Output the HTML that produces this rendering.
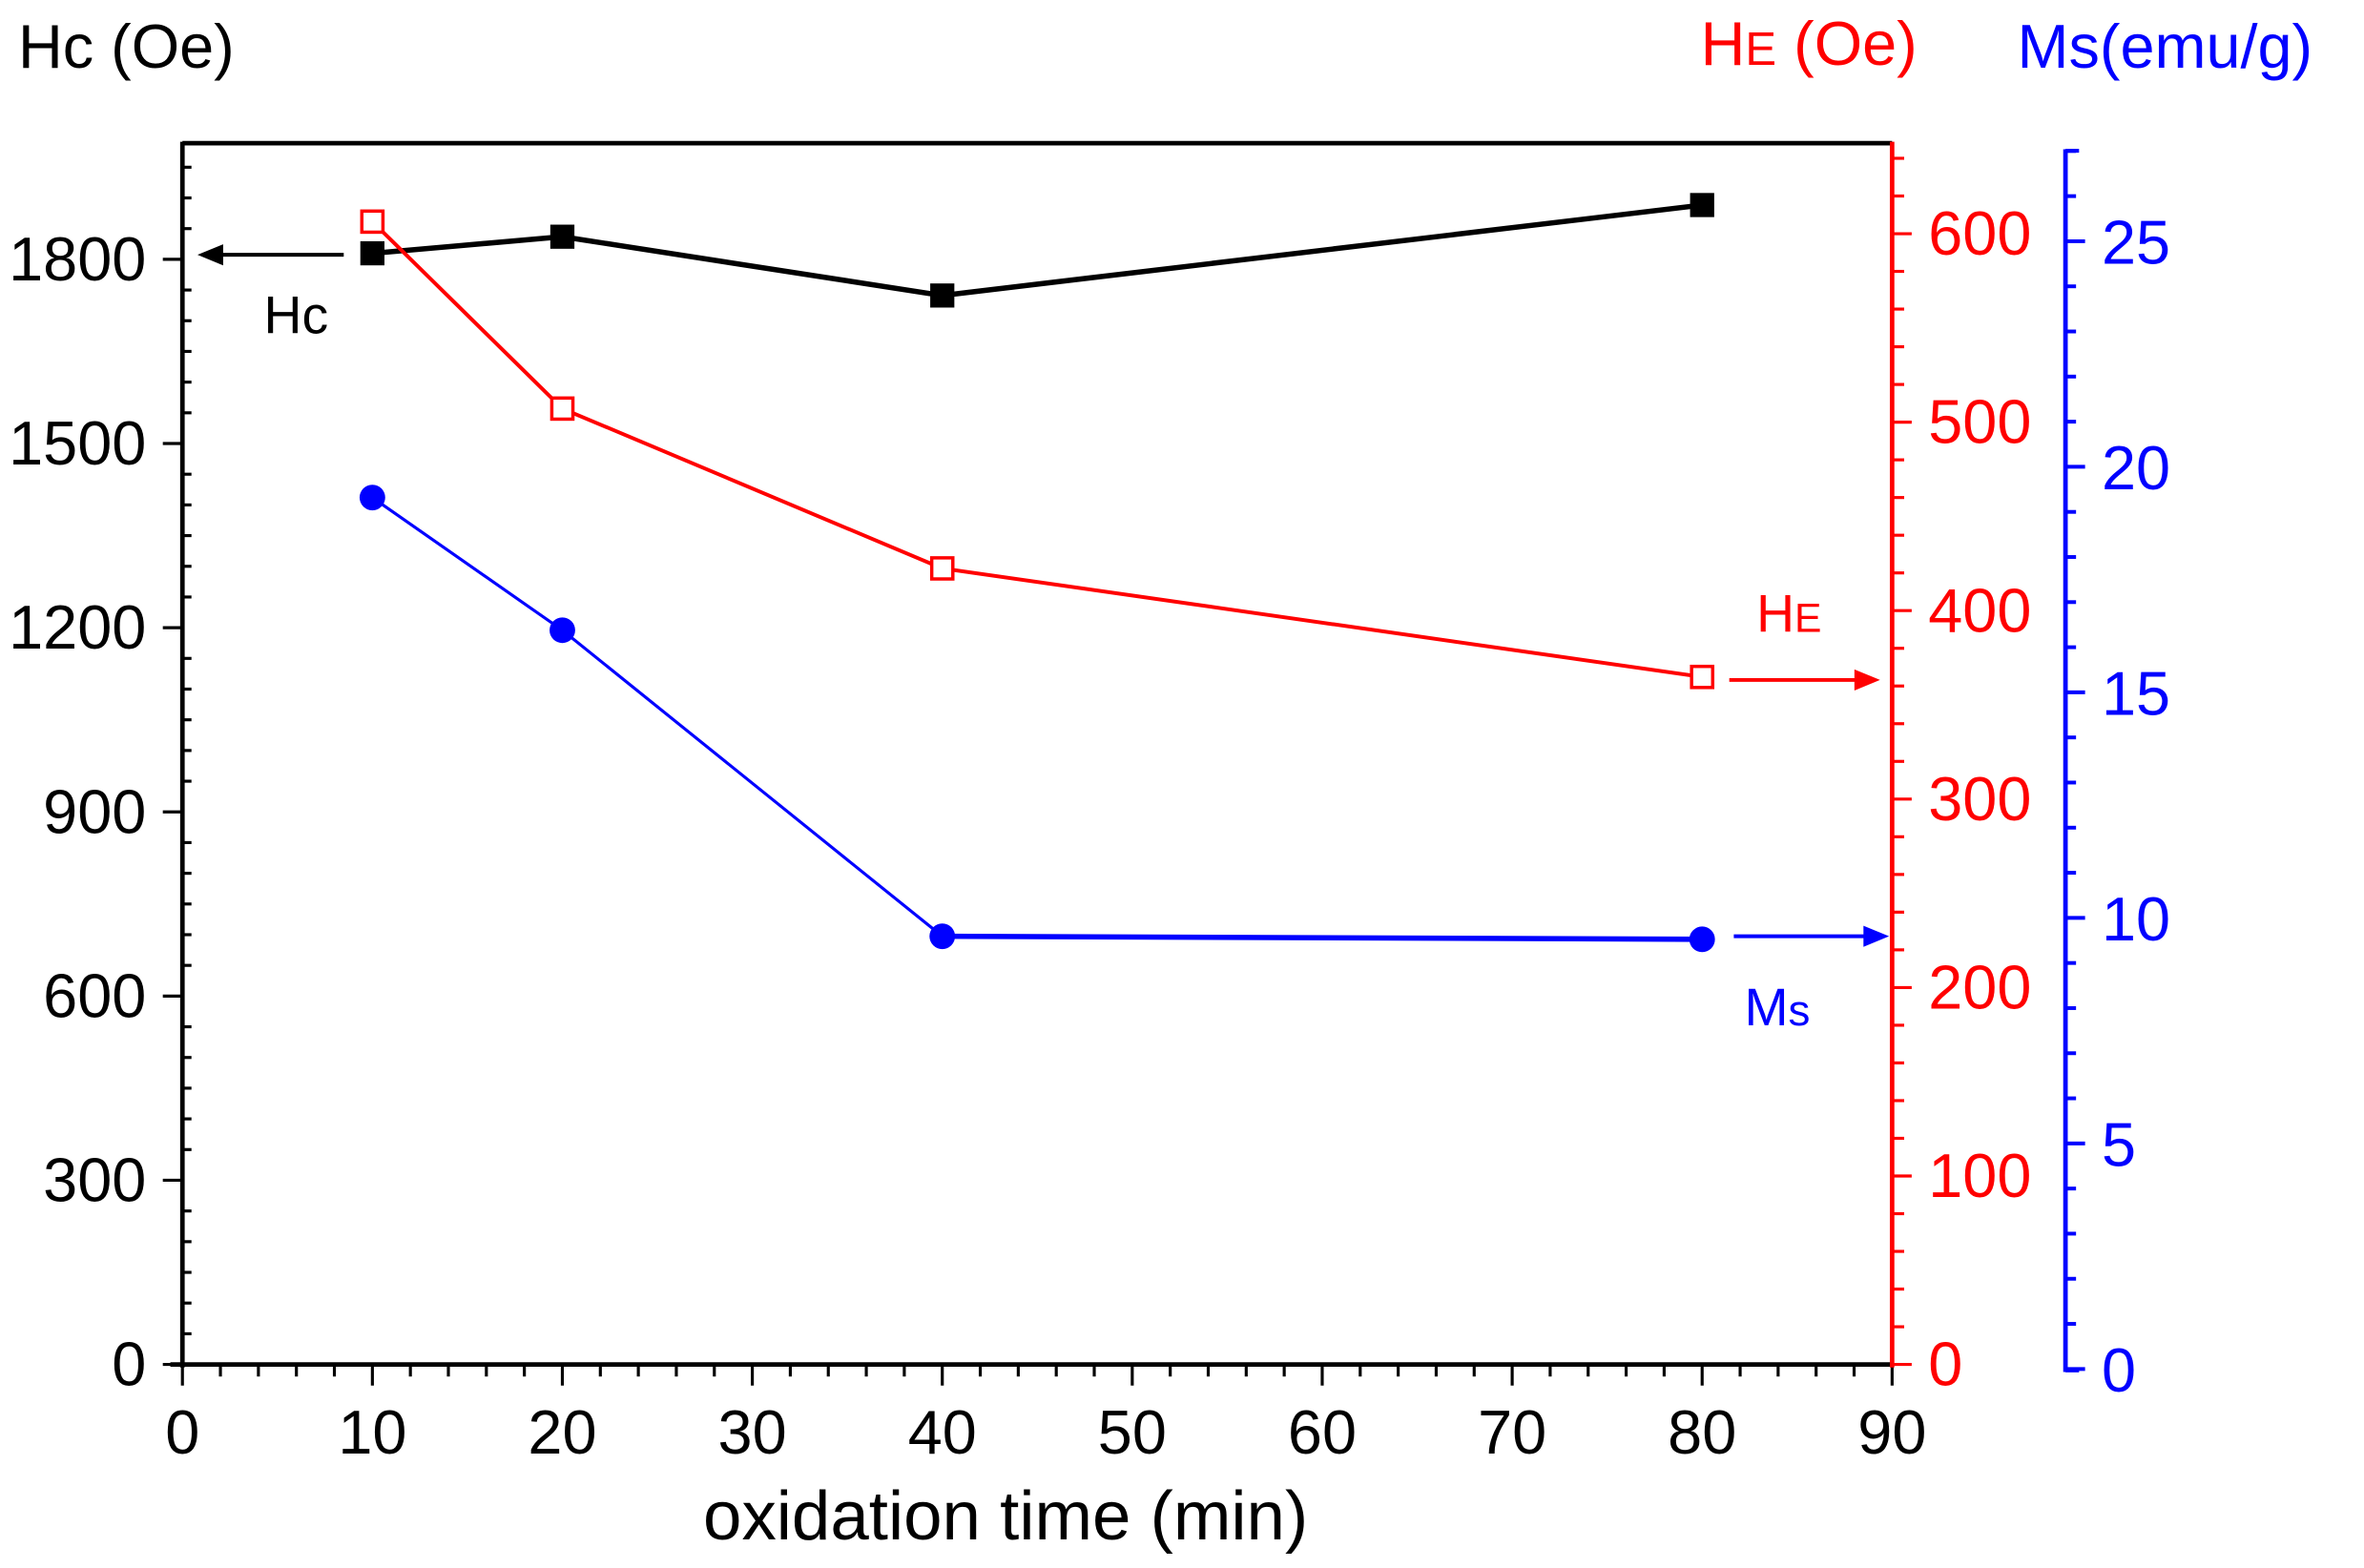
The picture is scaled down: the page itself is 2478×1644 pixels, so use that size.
<!DOCTYPE html>
<html><head><meta charset="utf-8"><style>
html,body{margin:0;padding:0;background:#fff;}
svg{display:block;}
text{font-family:"Liberation Sans",Arial,sans-serif;}
</style></head><body>
<svg width="2478" height="1644" viewBox="0 0 1568 1040" preserveAspectRatio="none" xmlns="http://www.w3.org/2000/svg">
<rect width="1568" height="1040" fill="#fff"/>
<line x1="121" y1="95" x2="1255" y2="95" stroke="#000" stroke-width="3"/>
<line x1="121" y1="94" x2="121" y2="907" stroke="#000" stroke-width="3"/>
<line x1="113" y1="905" x2="1255" y2="905" stroke="#000" stroke-width="3"/>
<g id="xt" stroke="#000" stroke-width="2"></g>
<g id="yl" stroke="#000" stroke-width="2"></g>
<line x1="1255" y1="94" x2="1255" y2="907" stroke="#f00" stroke-width="3"/>
<g id="yr" stroke="#f00" stroke-width="2"></g>
<line x1="1370" y1="99" x2="1370" y2="910" stroke="#00f" stroke-width="3"/>
<g id="yb" stroke="#00f" stroke-width="2.5"></g>
<g id="labels" font-size="41"></g>

<polyline points="247,168 373,157 625,196 1129,136" fill="none" stroke="#000" stroke-width="3.5"/>
<g fill="#000">
<rect x="239" y="160" width="16" height="16"/><rect x="365" y="149" width="16" height="16"/>
<rect x="617" y="188" width="16" height="16"/><rect x="1121" y="128" width="16" height="16"/>
</g>
<polyline points="247,147 373,271 625,377 1129,449" fill="none" stroke="#f00" stroke-width="2.5"/>
<g fill="#fff" stroke="#f00" stroke-width="2.2">
<rect x="240" y="140" width="14" height="14"/><rect x="366" y="264" width="14" height="14"/>
<rect x="618" y="370" width="14" height="14"/><rect x="1122" y="442" width="14" height="14"/>
</g>
<polyline points="247,330 373,418 625,621 1129,623" fill="none" stroke="#00f" stroke-width="2"/>
<line x1="625" y1="621" x2="1129" y2="623" stroke="#00f" stroke-width="3.5"/>
<g fill="#00f">
<circle cx="247" cy="330" r="8.5"/><circle cx="373" cy="418" r="8.5"/>
<circle cx="625" cy="621" r="8.5"/><circle cx="1129" cy="623" r="8.5"/>
</g>
<line x1="228" y1="169" x2="145" y2="169" stroke="#000" stroke-width="2.5"/>
<polygon points="131,169 148,162 148,176" fill="#000"/>
<line x1="1147" y1="451" x2="1232" y2="451" stroke="#f00" stroke-width="2.5"/>
<polygon points="1247,451 1230,444 1230,458" fill="#f00"/>
<line x1="1150" y1="621" x2="1238" y2="621" stroke="#00f" stroke-width="2.5"/>
<polygon points="1253,621 1236,614 1236,628" fill="#00f"/>
<text x="175" y="221" font-size="35">Hc</text>
<text x="1165" y="419" font-size="35" fill="#f00">H<tspan font-size="27">E</tspan></text>
<text x="1157" y="680" font-size="35" fill="#00f">M<tspan font-size="29">s</tspan></text>
<text x="12" y="45" font-size="41">Hc (Oe)</text>
<text x="1128" y="43" font-size="41" fill="#f00">H<tspan font-size="31">E</tspan> (Oe)</text>
<text x="1338" y="45" font-size="41" fill="#00f">Ms(emu/g)</text>
<text x="667" y="1021" font-size="46" text-anchor="middle">oxidation time (min)</text>
</svg>
<script>
const NS="http://www.w3.org/2000/svg";
function L(g,x1,y1,x2,y2){const l=document.createElementNS(NS,"line");l.setAttribute("x1",x1);l.setAttribute("y1",y1);l.setAttribute("x2",x2);l.setAttribute("y2",y2);document.getElementById(g).appendChild(l);}
function T(x,y,s,c,a){const t=document.createElementNS(NS,"text");t.setAttribute("x",x);t.setAttribute("y",y);t.setAttribute("fill",c);t.setAttribute("text-anchor",a);t.textContent=s;document.getElementById("labels").appendChild(t);}
for(let v=0;v<=90;v+=2){const x=121+v*12.6;const maj=v%10==0;L("xt",x,905,x,maj?919:913);if(maj)T(x,964,v,"#000","middle");}
const yL=v=>905-v*733/1800;
for(let v=0;v<=1975;v+=50){const y=yL(v);const maj=v%300==0;L("yl",maj?108:121,y,maj?121:127,y);if(maj)T(97,y+14,v,"#000","end");}
const yR=v=>905-v*1.25;
for(let v=0;v<=640;v+=20){const y=yR(v);const maj=v%100==0;L("yr",1255,y,maj?1268:1263,y);if(maj)T(1279,y+14,v,"#f00","start");}
const yB=v=>908-v*29.92;
for(let v=0;v<=27;v+=1){const y=yB(v);if(y<99)break;const maj=v%5==0;L("yb",1370,y,maj?1383:1377,y);if(maj)T(1394,y+15,v,"#00f","start");}
L("yb",1370,100,1379,100);L("yb",1370,909,1379,909);
</script>
</body></html>
